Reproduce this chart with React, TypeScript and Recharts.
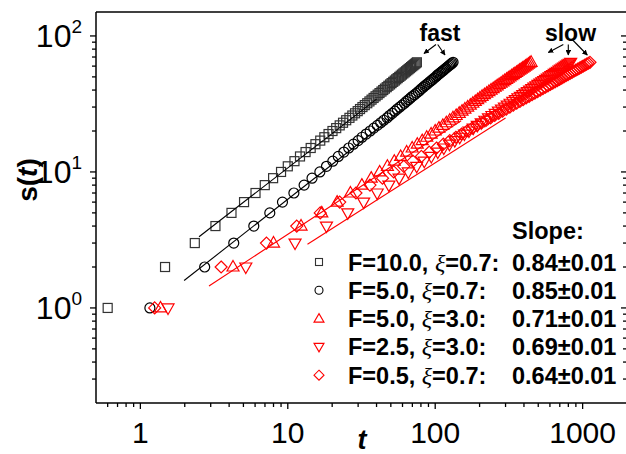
import { ScatterChart, Scatter, XAxis, YAxis } from 'recharts';

// cluster size s (markers sit at every integer s)
const sSteps = [
  1, 2, 3, 4, 5, 6, 7, 8, 9, 10, 11, 12, 13, 14, 15, 16, 17, 18, 19, 20, 21, 22, 23, 24, 25, 26, 27, 28, 29, 30, 31, 32,
  33, 34, 35, 36, 37, 38, 39, 40, 41, 42, 43, 44, 45, 46, 47, 48, 49, 50, 51, 52, 53, 54, 55, 56, 57, 58, 59, 60, 61, 62, 63, 64,
];

// time t at which each s is reached
const tF10x07 = [
  0.6, 1.47, 2.34, 3.23, 4.15, 5.05, 6.04, 6.98, 7.95, 9.0, 10.0, 11.1, 12.1, 13.2, 14.3, 15.4, 16.6, 17.7, 18.9, 20.1,
  21.3, 22.5, 23.7, 24.9, 26.2, 27.4, 28.6, 29.8, 30.9, 32.1, 33.3, 34.6, 35.8, 37.0, 38.2, 39.4, 40.7, 41.9, 43.2, 44.4,
  45.6, 46.9, 48.1, 49.4, 50.6, 51.9, 53.2, 54.4, 55.7, 57.0, 58.3, 59.5, 60.8, 62.1, 63.4, 64.7, 66.0, 67.3, 68.6, 69.9,
  71.2, 72.5, 73.8, 75.1,
];
const tF5x07 = [
  1.16, 2.73, 4.3, 5.88, 7.55, 9.2, 11.0, 12.9, 14.6, 16.5, 18.3, 20.2, 22.0, 24.0, 25.9, 27.9, 30.0, 31.9, 34.0, 36.2,
  38.3, 40.5, 42.7, 44.8, 47.2, 49.0, 51.2, 53.3, 55.3, 57.5, 59.6, 61.9, 63.7, 65.9, 68.0, 70.1, 72.4, 74.6, 76.9, 79.0,
  80.7, 83.0, 85.1, 87.4, 89.6, 91.9, 94.2, 96.3, 98.6, 100.9, 102.6, 104.7, 107.0, 109.3, 111.6, 113.9, 116.2, 118.4,
  120.7, 123.0, 125.3, 127.6, 129.9, 132.2,
];
const tF5x30 = [
  1.37, 4.25, 8.0, 12.3, 17.0, 21.6, 26.6, 31.8, 36.8, 42.0, 47.4, 52.8, 58.3, 64.0, 69.8, 75.6, 81.6, 87.6, 93.8, 100,
  106, 112.6, 119, 125.5, 132, 138.8, 145.5, 152, 159, 166, 173, 180, 187, 194, 201, 208, 215.7, 223.5, 231.4, 239.3,
  247.3, 255.3, 263.4, 271.6, 279.9, 288.2, 296.5, 305.0, 313.4, 322.0, 330.6, 339.2, 347.9, 356.7, 365.5, 374.3, 383.2,
  392.2, 401.2, 410.3, 419.4, 428.6, 437.8, 447.1,
];
const tF25x30 = [
  1.54, 5.19, 11.2, 18.3, 25.5, 32.7, 40.4, 48.5, 56.9, 65.7, 74.9, 84.3, 94.1, 104.1, 114.4, 124.9, 135.7, 146.7, 157.9,
  169.4, 181.1, 193.0, 205.1, 217.3, 229.8, 242.5, 255.3, 268.3, 281.5, 294.8, 308.3, 322.0, 335.8, 349.8, 363.9, 378.2,
  392.6, 407.1, 421.8, 436.7, 451.6, 466.8, 482.1, 497.5, 512.9, 528.5, 544.3, 560.2, 576.3, 592.4, 608.6, 625.0, 641.5,
  658.0, 674.7, 691.4, 708.3, 725.4, 742.5, 759.7, 777.0, 794.6, 812.2, 829.8,
];
const tF05x07 = [
  1.25, 3.53, 7.17, 11.5, 16.6, 22.5, 29.0, 36.1, 43.9, 52.3, 61.2, 70.6, 80.6, 91.1, 102.1, 113.6, 125.6, 138.0, 150.9,
  164.2, 178.0, 192.2, 206.9, 222.0, 237.5, 253.4, 269.6, 286.3, 303.4, 320.9, 338.7, 357.0, 375.6, 394.6, 413.9, 433.7,
  453.8, 474.3, 495.1, 516.1, 537.7, 559.5, 581.7, 604.1, 626.9, 650.0, 673.6, 697.4, 721.4, 745.9, 770.7, 795.8, 821.3,
  847.1, 873.2, 899.6, 926.3, 953.4, 980.6, 1008, 1036, 1064, 1093, 1122,
];

// power-law fits (two end points each)
const fitF10x07 = [{ t: 2.5, s: 3.34 }, { t: 40, s: 34.3 }];
const fitF5x07 = [{ t: 1.98, s: 1.59 }, { t: 60, s: 28.9 }];
const fitF5x30 = [{ t: 2.92, s: 1.45 }, { t: 150, s: 23.8 }];
const fitF25x30 = [{ t: 13.6, s: 2.94 }, { t: 300, s: 24.9 }];

const legendLabels = ['F=10.0, ', 'F=5.0, ', 'F=5.0, ', 'F=2.5, ', 'F=0.5, '];
const legendXi = ['=0.7:', '=0.7:', '=3.0:', '=3.0:', '=0.7:'];
const slopes = ['0.84±0.01', '0.85±0.01', '0.71±0.01', '0.69±0.01', '0.64±0.01'];

const xMajor = [1, 10, 100, 1000];
const xTicks = [0.6, 0.7, 0.8, 0.9, 1, 2, 3, 4, 5, 6, 7, 8, 9, 10, 20, 30, 40, 50, 60, 70, 80, 90, 100, 200, 300, 400, 500, 600, 700, 800, 900, 1000];
const yMajor = [1, 10, 100];
const yTicks = [0.3, 0.4, 0.5, 0.6, 0.7, 0.8, 0.9, 1, 2, 3, 4, 5, 6, 7, 8, 9, 10, 20, 30, 40, 50, 60, 70, 80, 90, 100];

const toPoints = (ts: number[]) => ts.map((t, i) => ({ t, s: sSteps[i] }));

const FONT = '"Liberation Sans", Arial, Helvetica, sans-serif';
const RED = '#ff0000';
const axisStyle = { stroke: '#000', strokeWidth: 1.5 };

const BottomTick = (p: any) => {
  const major = xMajor.includes(p.payload.value);
  return (
    <g>
      <line x1={p.x} x2={p.x} y1={p.y} y2={p.y + (major ? 6 : 4)} stroke="#000" strokeWidth={1.3} />
      {major && (
        <text x={p.x} y={p.y + 40} textAnchor="middle" fontSize={30} fontFamily={FONT} fill="#000">
          {p.payload.value}
        </text>
      )}
    </g>
  );
};

const TopTick = (p: any) => {
  const major = xMajor.includes(p.payload.value);
  return <line x1={p.x} x2={p.x} y1={p.y} y2={p.y + (major ? 6 : 4)} stroke="#000" strokeWidth={1.3} />;
};

const LeftTick = (p: any) => {
  const major = yMajor.includes(p.payload.value);
  return (
    <g>
      <line x1={p.x - (major ? 6 : 4)} x2={p.x} y1={p.y} y2={p.y} stroke="#000" strokeWidth={1.3} />
      {major && (
        <text x={p.x - 14} y={p.y + 11} textAnchor="end" fontSize={32} fontFamily={FONT} fill="#000">
          10
          <tspan dy={-14} fontSize={19}>
            {Math.round(Math.log10(p.payload.value))}
          </tspan>
        </text>
      )}
    </g>
  );
};

const RightTick = (p: any) => {
  const major = yMajor.includes(p.payload.value);
  return <line x1={p.x - (major ? 6 : 4)} x2={p.x} y1={p.y} y2={p.y} stroke="#000" strokeWidth={1.3} />;
};

const SquareDot = ({ cx, cy }: any) => (
  <rect x={cx - 4.5} y={cy - 4.5} width={9} height={9} fill="none" stroke="#333" strokeWidth={1.2} />
);
const CircleDot = ({ cx, cy }: any) => <circle cx={cx} cy={cy} r={5} fill="none" stroke="#000" strokeWidth={1.2} />;
const TriUpDot = ({ cx, cy }: any) => (
  <polygon points={`${cx},${cy - 6.5} ${cx + 6},${cy + 4} ${cx - 6},${cy + 4}`} fill="none" stroke={RED} strokeWidth={1.2} />
);
const TriDownDot = ({ cx, cy }: any) => (
  <polygon points={`${cx},${cy + 6.5} ${cx + 6},${cy - 4} ${cx - 6},${cy - 4}`} fill="none" stroke={RED} strokeWidth={1.2} />
);
const DiamondDot = ({ cx, cy }: any) => (
  <polygon points={`${cx},${cy - 6} ${cx + 6},${cy} ${cx},${cy + 6} ${cx - 6},${cy}`} fill="none" stroke={RED} strokeWidth={1.2} />
);
const NoDot = () => <g />;

const legendMarks = [
  <rect key="a" x={315.5} y={-3.5} width={7} height={7} fill="none" stroke="#333" strokeWidth={1.1} />,
  <circle key="b" cx={319} cy={0} r={4} fill="none" stroke="#000" strokeWidth={1.1} />,
  <polygon key="c" points="319,-5 324,3.5 314,3.5" fill="none" stroke={RED} strokeWidth={1.1} />,
  <polygon key="d" points="319,5 324,-3.5 314,-3.5" fill="none" stroke={RED} strokeWidth={1.1} />,
  <polygon key="e" points="319,-5 324,0 319,5 314,0" fill="none" stroke={RED} strokeWidth={1.1} />,
];

export default function App() {
  const rowY = [262, 290.3, 318.6, 346.9, 375.2];
  return (
    <div style={{ position: 'fixed', left: 0, top: 0, width: 626, height: 454, overflow: 'hidden', background: '#fff' }}>
      <ScatterChart width={628} height={454} margin={{ top: 11, right: 0, bottom: 50, left: 95 }}>
        <XAxis
          xAxisId="b"
          type="number"
          dataKey="t"
          scale="log"
          domain={[0.5, 2000]}
          allowDataOverflow
          ticks={xTicks}
          interval={0}
          tickSize={0}
          tickMargin={0}
          height={1}
          tickLine={false}
          axisLine={axisStyle}
          tick={(p: any) => <BottomTick {...p} />}
        />
        <XAxis
          xAxisId="top"
          orientation="top"
          type="number"
          scale="log"
          domain={[0.5, 2000]}
          allowDataOverflow
          ticks={xTicks}
          interval={0}
          tickSize={0}
          tickMargin={0}
          height={1}
          tickLine={false}
          axisLine={axisStyle}
          tick={(p: any) => <TopTick {...p} />}
        />
        <YAxis
          yAxisId="l"
          type="number"
          dataKey="s"
          scale="log"
          domain={[0.2, 150]}
          allowDataOverflow
          ticks={yTicks}
          interval={0}
          tickSize={0}
          tickMargin={0}
          width={1}
          tickLine={false}
          axisLine={axisStyle}
          tick={(p: any) => <LeftTick {...p} />}
        />
        <YAxis
          yAxisId="r"
          orientation="right"
          type="number"
          scale="log"
          domain={[0.2, 150]}
          allowDataOverflow
          ticks={yTicks}
          interval={0}
          tickSize={0}
          tickMargin={0}
          width={1}
          tickLine={false}
          axisLine={axisStyle}
          tick={(p: any) => <RightTick {...p} />}
        />
        <Scatter xAxisId="b" yAxisId="l" data={toPoints(tF10x07)} shape={(p: any) => <SquareDot {...p} />} isAnimationActive={false} />
        <Scatter xAxisId="b" yAxisId="l" data={toPoints(tF5x07)} shape={(p: any) => <CircleDot {...p} />} isAnimationActive={false} />
        <Scatter xAxisId="b" yAxisId="l" data={toPoints(tF5x30)} shape={(p: any) => <TriUpDot {...p} />} isAnimationActive={false} />
        <Scatter xAxisId="b" yAxisId="l" data={toPoints(tF25x30)} shape={(p: any) => <TriDownDot {...p} />} isAnimationActive={false} />
        <Scatter xAxisId="b" yAxisId="l" data={toPoints(tF05x07)} shape={(p: any) => <DiamondDot {...p} />} isAnimationActive={false} />
        <Scatter xAxisId="b" yAxisId="l" data={fitF10x07} line={{ stroke: '#000', strokeWidth: 1.1 }} shape={NoDot} isAnimationActive={false} />
        <Scatter xAxisId="b" yAxisId="l" data={fitF5x07} line={{ stroke: '#000', strokeWidth: 1.1 }} shape={NoDot} isAnimationActive={false} />
        <Scatter xAxisId="b" yAxisId="l" data={fitF5x30} line={{ stroke: RED, strokeWidth: 1.1 }} shape={NoDot} isAnimationActive={false} />
        <Scatter xAxisId="b" yAxisId="l" data={fitF25x30} line={{ stroke: RED, strokeWidth: 1.1 }} shape={NoDot} isAnimationActive={false} />
      </ScatterChart>

      <svg width={626} height={454} style={{ position: 'absolute', left: 0, top: 0, pointerEvents: 'none' }}>
        <defs>
          <marker id="ah" viewBox="0 0 10 10" refX="9" refY="5" markerWidth="5" markerHeight="5" orient="auto">
            <path d="M0,0 L10,5 L0,10 z" fill="#000" />
          </marker>
        </defs>
        {/* axis titles */}
        <text
          transform="rotate(-90 37 180)"
          x={37}
          y={180}
          textAnchor="middle"
          fontSize={28}
          fontWeight="bold"
          fontFamily={FONT}
        >
          s(<tspan fontStyle="italic">t</tspan>)
        </text>
        <text x={362} y={449} textAnchor="middle" fontSize={27} fontWeight="bold" fontStyle="italic" fontFamily={FONT}>
          t
        </text>

        {/* fast / slow annotations */}
        <text x={440} y={40.5} textAnchor="middle" fontSize={23} fontWeight="bold" fontFamily={FONT}>
          fast
        </text>
        <text x={570.5} y={40.5} textAnchor="middle" fontSize={23} fontWeight="bold" fontFamily={FONT}>
          slow
        </text>
        <g stroke="#000" strokeWidth={1.1} markerEnd="url(#ah)">
          <line x1={436} y1={44.5} x2={424} y2={53.5} />
          <line x1={437.7} y1={44.5} x2={445} y2={55} />
          <line x1={563.3} y1={44.5} x2={548.3} y2={52.5} />
          <line x1={568.3} y1={44.5} x2={568.3} y2={55} />
          <line x1={572.7} y1={40} x2={587.3} y2={55} />
        </g>

        {/* legend */}
        <text x={512} y={238.5} fontSize={23.5} fontWeight="bold" fontFamily={FONT}>
          Slope:
        </text>
        {rowY.map((y, i) => (
          <g key={i}>
            <g transform={`translate(0 ${y})`}>{legendMarks[i]}</g>
            <text x={348} y={y + 8.5} fontSize={23.5} fontWeight="bold" fontFamily={FONT}>
              {legendLabels[i]}
              <tspan fontStyle="italic" fontWeight="normal" fontFamily='"Liberation Serif", serif' fontSize={24}>
                ξ
              </tspan>
              {legendXi[i]}
            </text>
            <text x={512} y={y + 8.5} fontSize={23.5} fontWeight="bold" fontFamily={FONT}>
              {slopes[i]}
            </text>
          </g>
        ))}
      </svg>
    </div>
  );
}
